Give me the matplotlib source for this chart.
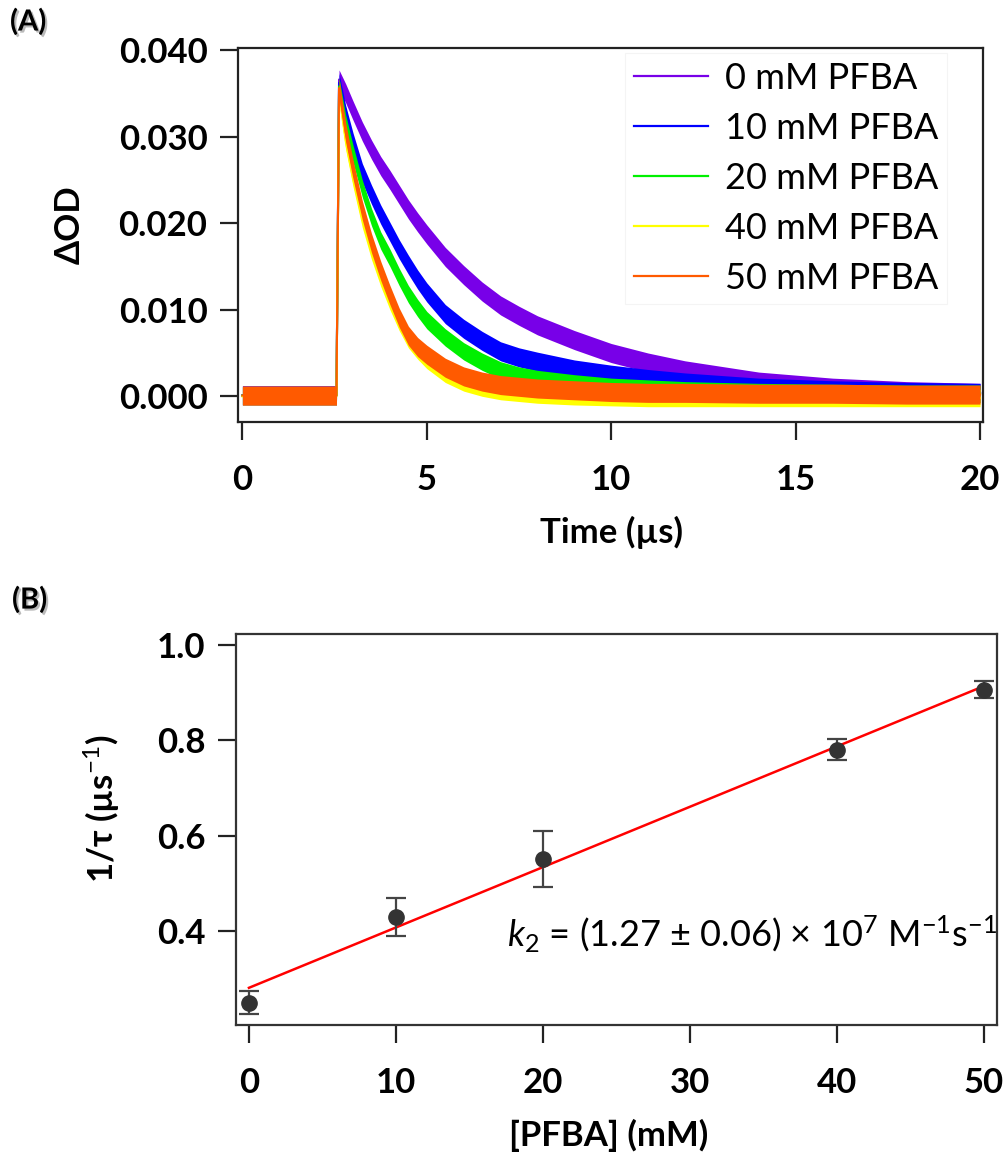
import matplotlib
matplotlib.use("Agg")
import matplotlib.pyplot as plt
import matplotlib.patheffects as pe
import numpy as np

plt.rcParams['font.family'] = ['Lato', 'DejaVu Sans']
plt.rcParams['mathtext.fontset'] = 'custom'
plt.rcParams['mathtext.rm'] = 'Lato'
plt.rcParams['mathtext.it'] = 'Lato:italic'
plt.rcParams['mathtext.bf'] = 'Lato:bold'

# ---------------- Panel A data ----------------
T_TRACE = [0, 2.55, 2.62, 2.8, 3.0, 3.25, 3.5, 3.75, 4.0, 4.25, 4.5, 4.75, 5.0, 5.5,
           6.0, 6.5, 7.0, 7.5, 8.0, 9.0, 10.0, 11.0, 12.0, 14.0, 16.0, 18.0, 20.0]
OD_0MM = [0.0001, 0.0001, 0.0366, 0.0350, 0.0330, 0.0306, 0.0285, 0.0266, 0.0250,
          0.0233, 0.0216, 0.0201, 0.0187, 0.0161, 0.0140, 0.0121, 0.0105, 0.0093,
          0.0082, 0.0065, 0.0050, 0.0039, 0.0030, 0.0017, 0.0010, 0.0006, 0.0004]
OD_10MM = [0.0001, 0.0001, 0.0362, 0.0325, 0.0293, 0.0258, 0.0233, 0.0210, 0.0190,
           0.0170, 0.0152, 0.0135, 0.0120, 0.0095, 0.0078, 0.0064, 0.0052, 0.0045,
           0.0040, 0.0031, 0.0025, 0.0020, 0.0016, 0.0010, 0.0007, 0.0005, 0.0004]
OD_20MM = [0.0001, 0.0001, 0.0358, 0.0315, 0.0280, 0.0240, 0.0207, 0.0180, 0.0160,
           0.0138, 0.0118, 0.0102, 0.0088, 0.0068, 0.0052, 0.0040, 0.0030, 0.0024,
           0.0020, 0.0015, 0.0011, 0.0009, 0.0007, 0.0005, 0.0004, 0.0003, 0.0003]
OD_40MM = [0.0000, 0.0000, 0.0350, 0.0295, 0.0252, 0.0205, 0.0168, 0.0137, 0.0110,
           0.0086, 0.0066, 0.0053, 0.0042, 0.0026, 0.0016, 0.0010, 0.0006, 0.0004,
           0.0002, 0.0000, -0.0001, -0.0002, -0.0002, -0.0002, -0.0002, -0.0002, -0.0002]
OD_50MM = [0.0001, 0.0001, 0.0356, 0.0305, 0.0262, 0.0215, 0.0177, 0.0145, 0.0117,
           0.0091, 0.0070, 0.0057, 0.0048, 0.0033, 0.0023, 0.0017, 0.0013, 0.0011,
           0.0009, 0.0007, 0.0005, 0.0004, 0.0004, 0.0003, 0.0003, 0.0002, 0.0002]
# half-width of the visible noise band of each trace
NOISE_BAND = [0.0011, 0.0011, 0.0010, 0.0010, 0.0011]
TRACE_LABELS = ['0 mM PFBA', '10 mM PFBA', '20 mM PFBA', '40 mM PFBA', '50 mM PFBA']
TRACE_COLORS = ['#7800e8', '#0000ff', '#00f000', '#ffff00', '#ff5a00']
A_YTICKS = [0.000, 0.010, 0.020, 0.030, 0.040]
A_XTICKS = [0, 5, 10, 15, 20]

# ---------------- Panel B data ----------------
PFBA_MM = [0, 10, 20, 40, 50]
INV_TAU = [0.250, 0.430, 0.551, 0.780, 0.906]
INV_TAU_ERR = [0.024, 0.040, 0.058, 0.022, 0.018]
FIT_X = [0, 50]
FIT_Y = [0.281, 0.914]
B_XTICKS = [0, 10, 20, 30, 40, 50]
B_YTICKS = [0.4, 0.6, 0.8, 1.0]

W, H = 1006, 1156
fig = plt.figure(figsize=(W / 100, H / 100), dpi=100)

def px_axes(left, top, right, bottom):
    return fig.add_axes([left / W, 1 - bottom / H, (right - left) / W, (bottom - top) / H])

tick_kw = dict(direction='out', length=13, width=1.6, color='#222222')

# ---------------- Panel A ----------------
axA = px_axes(238, 47.7, 983, 422.3)
series = [OD_0MM, OD_10MM, OD_20MM, OD_40MM, OD_50MM]
t = np.array(T_TRACE)
for vals, hw, col, lab in zip(series, NOISE_BAND, TRACE_COLORS, TRACE_LABELS):
    v = np.array(vals)
    axA.fill_between(t, v - hw, v + hw, color=col, lw=0, zorder=2)
    axA.plot(t, v, color=col, lw=1.5, zorder=2)
    axA.plot([], [], color=col, lw=1.6, label=lab)

axA.set_xlim(-0.12, 20.08)
axA.set_ylim(-0.0030, 0.04027)
axA.set_xticks(A_XTICKS)
axA.set_yticks(A_YTICKS)
axA.set_yticklabels([f'{v:.3f}' for v in A_YTICKS])
axA.tick_params(axis='both', which='both', top=False, right=False, labelsize=25, **tick_kw)
axA.tick_params(axis='x', pad=17)
axA.tick_params(axis='y', pad=9)
for lbl in axA.get_xticklabels() + axA.get_yticklabels():
    lbl.set_fontweight('bold')
for s in axA.spines.values():
    s.set_linewidth(1.6)
    s.set_color('#222222')
axA.set_xlabel('Time (µs)', fontsize=25, fontweight='bold')
axA.xaxis.set_label_coords(0.502, -0.25)
axA.set_ylabel('ΔOD', fontsize=25, fontweight='bold')
axA.yaxis.set_label_coords(-0.205, 0.527)

leg = axA.legend(loc='upper right', bbox_to_anchor=((947 - 238) / 745, (422.3 - 53) / 374.6),
                 fontsize=26, handlelength=2.05, handletextpad=0.45, labelspacing=0.47,
                 borderpad=0.25, frameon=True, fancybox=False, borderaxespad=0)
leg.get_frame().set_edgecolor('#f2f2f2')
leg.get_frame().set_linewidth(0.8)

# ---------------- Panel B ----------------
axB = px_axes(236, 634.3, 996.7, 1025)
axB.plot(FIT_X, FIT_Y, color='#ff0000', lw=1.8, zorder=3)
axB.errorbar(PFBA_MM, INV_TAU, yerr=INV_TAU_ERR, fmt='o', color='#333333',
             ms=11, ecolor='#444444', elinewidth=1.6, capsize=7, capthick=1.6, zorder=4)
axB.set_xlim(-0.88, 50.86)
axB.set_ylim(0.203, 1.0225)
axB.set_xticks(B_XTICKS)
axB.set_yticks(B_YTICKS)
axB.set_yticklabels([f'{v:.1f}' for v in B_YTICKS])
axB.tick_params(axis='both', which='both', top=False, right=False, labelsize=25, **tick_kw)
axB.tick_params(axis='x', pad=17)
axB.tick_params(axis='y', pad=9)
for lbl in axB.get_xticklabels() + axB.get_yticklabels():
    lbl.set_fontweight('bold')
for s in axB.spines.values():
    s.set_linewidth(1.6)
    s.set_color('#333333')
axB.set_xlabel('[PFBA] (mM)', fontsize=25, fontweight='bold')
axB.xaxis.set_label_coords(0.49, -0.24)
axB.set_ylabel('1/τ (µs$^{-1}$)', fontsize=25, fontweight='bold')
axB.yaxis.set_label_coords(-0.15, 0.555)
axB.text(34.2, 0.368, r'$k_2$ = (1.27 ± 0.06) × 10$^{7}$ M$^{-1}$s$^{-1}$',
         fontsize=26, ha='center', va='baseline', zorder=5)

# panel letters
shadow = [pe.SimplePatchShadow(offset=(1.5, -1.5), shadow_rgbFace='0.55', alpha=0.6), pe.Normal()]
fig.text(10 / W, 1 - 22 / H, '(A)', fontsize=21, fontweight='bold', va='center', ha='left',
         path_effects=shadow)
fig.text(12 / W, 1 - 600 / H, '(B)', fontsize=21, fontweight='bold', va='center', ha='left',
         path_effects=shadow)

fig.savefig('out.png', dpi=100)
